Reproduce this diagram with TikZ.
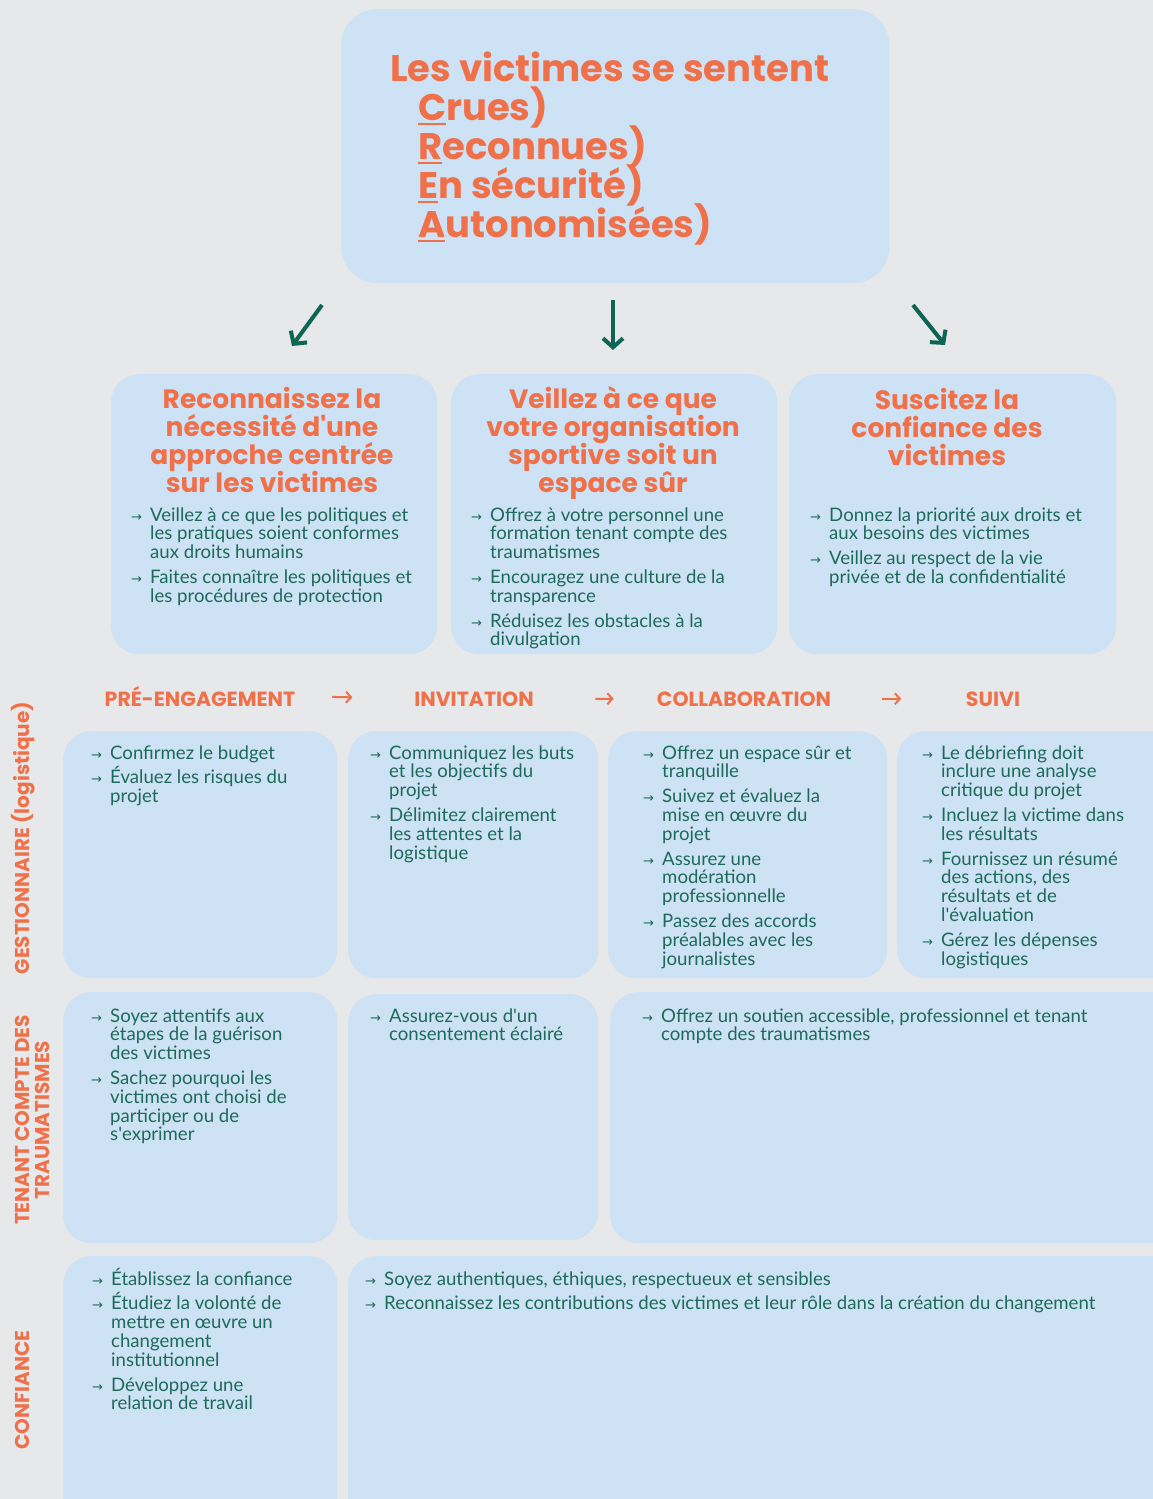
\documentclass[tikz,border=0pt]{standalone}
\usepackage{fontspec}
\setmainfont{Lato}
\newfontfamily\headfont{Poppins}
\newfontfamily\arrowfont{DejaVu Sans}
\usetikzlibrary{positioning,arrows.meta,calc}

\definecolor{bggrey}{HTML}{E6E8EA}
\definecolor{cellblue}{HTML}{CDE2F4}
\definecolor{hdorange}{HTML}{F0704A}
\definecolor{txtgreen}{HTML}{1E6A5A}
\definecolor{arrgreen}{HTML}{0E6554}

\newcommand{\arw}{\makebox[19pt][l]{\arrowfont\fontsize{13}{13}\selectfont →}}
\newcommand{\firstletter}[1]{\setbox0\hbox{#1}\rlap{\rule[-5pt]{\wd0}{2.5pt}}\box0}
\newcommand{\gap}{\noalign{\vskip6pt}}
\newcommand{\ctrlines}[1]{\vtop{\let\\\cr\lineskiplimit=-\maxdimen
  \halign{\hfil##\hfil\cr#1\crcr}}}
\newcommand{\leftlines}[1]{\vtop{\let\\\cr\lineskiplimit=-\maxdimen
  \halign{##\hfil&##\hfil\cr#1\crcr}}}
\newcommand{\q}{\textquotesingle}

\begin{document}
\begin{tikzpicture}[x=1pt,y=-1pt,
                    cell/.style={fill=cellblue,
                      rounded corners=28pt,
                      anchor=north west,
                      inner sep=0pt},
                    items/.style={anchor=base west,
                      inner sep=0pt,
                      text=txtgreen,
                      font=\fontsize{18.6}{18.8}\selectfont},
                    heading/.style={anchor=base,
                      inner sep=0pt,
                      text=hdorange,
                      font=\headfont\bfseries\fontsize{26.5}{28}\selectfont},
                    phase/.style={anchor=base,
                      inner sep=0pt,
                      text=hdorange,
                      font=\headfont\bfseries\fontsize{20.5}{20}\selectfont},
                    rowlabel/.style={rotate=90,
                      anchor=base,
                      inner sep=0pt,
                      text=hdorange,
                      font=\headfont\bfseries\fontsize{20}{20}\selectfont},
                    down/.style={draw=arrgreen,
                      line width=4pt,
                      -{Straight Barb[length=9pt,width=20pt]}},
                    next/.style={draw=hdorange,
                      line width=2pt,
                      -{Straight Barb[length=5pt,width=11pt]}}]
\useasboundingbox (0,0) rectangle (1153,1499);
\clip (0,0) rectangle (1153,1499);
\fill[bggrey] (0,0) rectangle (1153,1499);

\node[cell, rounded corners=36pt, minimum width=548pt, minimum height=274pt] (title) at (341,9) {};
\node[anchor=base west, inner sep=0pt, text=hdorange,
      font=\headfont\bfseries\fontsize{37}{39}\selectfont] (slogan) at (390,81)
  {\leftlines{
   Les victimes se sentent&\\
   \hspace*{28pt}\firstletter{C}rues)&\\
   \hspace*{28pt}\firstletter{R}econnues)&\\
   \hspace*{28pt}\firstletter{E}n sécurité)&\\
   \hspace*{28pt}\firstletter{A}utonomisées)&}};

\coordinate (d1a) at (322,305);
\coordinate (d1b) at (292,346);
\coordinate (d2a) at (613,300);
\coordinate (d2b) at (613,350);
\coordinate (d3a) at (913,305);
\coordinate (d3b) at (945,345);
\draw[down] (d1a) -- (d1b);
\draw[down] (d2a) -- (d2b);
\draw[down] (d3a) -- (d3b);

\node[cell, minimum width=326pt, minimum height=280pt] (need) at (111,374) {};
\node[cell, minimum width=326pt, minimum height=280pt] (safe) at (451,374) {};
\node[cell, minimum width=327pt, minimum height=280pt] (trust) at (789,374) {};

\node[heading] (needh) at (272,408)
  {\ctrlines{Reconnaissez la\\nécessité d\q une\\approche centrée\\sur les victimes}};
\node[heading] (safeh) at (613,408)
  {\ctrlines{Veillez à ce que\\votre organisation\\sportive soit un\\espace sûr}};
\node[heading] (trusth) at (947,409)
  {\ctrlines{Suscitez la\\confiance des\\victimes}};

\node[items] (needi) at (131,521)
  {\leftlines{
   \arw & Veillez à ce que les politiques et\\
        & les pratiques soient conformes\\
        & aux droits humains\\\gap
   \arw & Faites connaître les politiques et\\
        & les procédures de protection}};
\node[items] (safei) at (471,521)
  {\leftlines{
   \arw & Offrez à votre personnel une\\
        & formation tenant compte des\\
        & traumatismes\\\gap
   \arw & Encouragez une culture de la\\
        & transparence\\\gap
   \arw & Réduisez les obstacles à la\\
        & divulgation}};
\node[items] (trusti) at (810,521)
  {\leftlines{
   \arw & Donnez la priorité aux droits et\\
        & aux besoins des victimes\\\gap
   \arw & Veillez au respect de la vie\\
        & privée et de la confidentialité}};

\node[phase] (pre) at (200,706) {PRÉ-ENGAGEMENT};
\node[phase] (inv) at (474,706) {INVITATION};
\node[phase] (col) at (744,706) {COLLABORATION};
\node[phase] (suivi) at (993,706) {SUIVI};
\draw[next] ($(pre.east)!0.31!(inv.west)$) -- ($(pre.east)!0.48!(inv.west)$);
\draw[next] ($(inv.east)!0.50!(col.west)$) -- ($(inv.east)!0.65!(col.west)$);
\draw[next] ($(col.east)!0.38!(suivi.west)$) -- ($(col.east)!0.52!(suivi.west)$);

\node[rowlabel] (gest) at (29,838) {GESTIONNAIRE (logistique)};
\node[rowlabel] (trauma) at (29,1120)
  {\ctrlines{TENANT COMPTE DES\\TRAUMATISMES}};
\node[rowlabel] (conf) at (29,1390) {CONFIANCE};

\node[cell, minimum width=274pt, minimum height=247pt] (ga) at (63,731) {};
\node[cell, minimum width=250pt, minimum height=247pt] (gb) at (348,731) {};
\node[cell, minimum width=279pt, minimum height=247pt] (gc) at (608,731) {};
\node[cell, minimum width=300pt, minimum height=247pt] (gd) at (897,731) {};

\node[cell, minimum width=274pt, minimum height=251pt] (ta) at (63,992) {};
\node[cell, minimum width=250pt, minimum height=246pt] (tb) at (348,994) {};
\node[cell, minimum width=600pt, minimum height=251pt] (tc) at (610,992) {};

\node[cell, minimum width=274pt, minimum height=300pt] (ca) at (63,1256) {};
\node[cell, minimum width=900pt, minimum height=300pt] (cb) at (348,1256) {};

\node[items] (gai) at (91,759)
  {\leftlines{
   \arw & Confirmez le budget\\\gap
   \arw & Évaluez les risques du\\
        & projet}};
\node[items] (gbi) at (370,759)
  {\leftlines{
   \arw & Communiquez les buts\\
        & et les objectifs du\\
        & projet\\\gap
   \arw & Délimitez clairement\\
        & les attentes et la\\
        & logistique}};
\node[items] (gci) at (643,759)
  {\leftlines{
   \arw & Offrez un espace sûr et\\
        & tranquille\\\gap
   \arw & Suivez et évaluez la\\
        & mise en œuvre du\\
        & projet\\\gap
   \arw & Assurez une\\
        & modération\\
        & professionnelle\\\gap
   \arw & Passez des accords\\
        & préalables avec les\\
        & journalistes}};
\node[items] (gdi) at (922,759)
  {\leftlines{
   \arw & Le débriefing doit\\
        & inclure une analyse\\
        & critique du projet\\\gap
   \arw & Incluez la victime dans\\
        & les résultats\\\gap
   \arw & Fournissez un résumé\\
        & des actions, des\\
        & résultats et de\\
        & l\q évaluation\\\gap
   \arw & Gérez les dépenses\\
        & logistiques}};

\node[items] (tai) at (91,1022)
  {\leftlines{
   \arw & Soyez attentifs aux\\
        & étapes de la guérison\\
        & des victimes\\\gap
   \arw & Sachez pourquoi les\\
        & victimes ont choisi de\\
        & participer ou de\\
        & s\q exprimer}};
\node[items] (tbi) at (370,1022)
  {\leftlines{
   \arw & Assurez-vous d\q un\\
        & consentement éclairé}};
\node[items] (tci) at (642,1022)
  {\leftlines{
   \arw & Offrez un soutien accessible, professionnel et tenant\\
        & compte des traumatismes}};

\node[items] (cai) at (92,1285)
  {\leftlines{
   \arw & Établissez la confiance\\\gap
   \arw & Étudiez la volonté de\\
        & mettre en œuvre un\\
        & changement\\
        & institutionnel\\\gap
   \arw & Développez une\\
        & relation de travail}};
\node[items] (cbi) at (365,1285)
  {\leftlines{
   \arw & Soyez authentiques, éthiques, respectueux et sensibles\\\gap
   \arw & Reconnaissez les contributions des victimes et leur rôle dans la création du changement}};
\end{tikzpicture}
\end{document}
